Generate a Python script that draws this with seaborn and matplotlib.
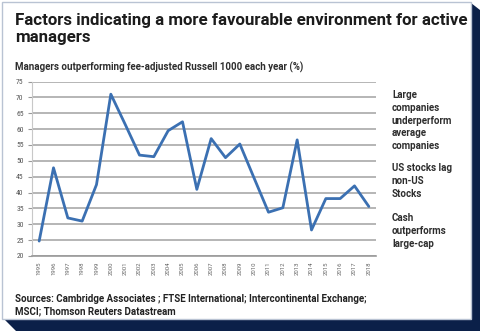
import matplotlib
matplotlib.use("Agg")
import matplotlib.pyplot as plt
from matplotlib.patches import Polygon, Rectangle
import seaborn as sns
import pandas as pd

years = list(range(1995, 2019))
pct_outperforming = [24.7, 47.8, 32.0, 31.0, 42.5, 71.0, 61.5, 51.8, 51.3, 59.5,
                     62.3, 41.0, 57.0, 51.0, 55.3, 44.5, 33.8, 35.2, 56.6, 28.2,
                     38.1, 38.1, 42.1, 35.6]
y_ticks = [20, 25, 30, 35, 40, 45, 50, 55, 60, 65, 70, 75]

title = "Factors indicating a more favourable environment for active\nmanagers"
subtitle = "Managers outperforming fee-adjusted Russell 1000 each year (%)"
side_notes = [
    ("Large\ncompanies\nunderperform\naverage\ncompanies", 96),
    ("US stocks lag\nnon-US\nStocks", 169),
    ("Cash\noutperforms\nlarge-cap", 219),
]
source = "Sources: Cambridge Associates ; FTSE International; Intercontinental Exchange;\nMSCI; Thomson Reuters Datastream"

df = pd.DataFrame({"year": years, "pct": pct_outperforming})

sns.set_theme(style="white")
plt.rcParams["font.family"] = ["Roboto", "DejaVu Sans"]

W, H = 480, 331
fig = plt.figure(figsize=(W / 100, H / 100), dpi=100)
fig.patch.set_facecolor("white")

# Card with dark drop shadow
navy = "#0b2049"
fig.patches.append(Polygon(
    [(471 / W, 1 - 3 / H), (480 / W, 1 - 10 / H), (480 / W, 0), (16 / W, 0),
     (4 / W, 1 - 319 / H), (471 / W, 1 - 319 / H)],
    closed=True, transform=fig.transFigure, facecolor=navy, edgecolor="none", zorder=0))
fig.patches.append(Rectangle(
    (2 / W, 1 - 319 / H), 469 / W, 317 / H, transform=fig.transFigure,
    facecolor="white", edgecolor="#b9c3d3", linewidth=1.0, zorder=1))

ax = fig.add_axes([32 / W, 1 - 256 / H, 344 / W, 174.5 / H])
ax.set_facecolor("none")
ax.set_zorder(2)

sns.lineplot(data=df, x="year", y="pct", ax=ax, color="#3b70b2", linewidth=2.0)

ax.set_xlim(1994.5, 2018.5)
ax.set_ylim(20, 75)
ax.set_yticks(y_ticks)
ax.set_yticklabels([str(v) for v in y_ticks], fontsize=5.5, color="#555555",
                   fontfamily=["Roboto Condensed", "Roboto", "DejaVu Sans"])
ax.set_xticks(years)
ax.set_xticklabels([str(y) for y in years], rotation=90, fontsize=4.3,
                   color="#666666")
ax.tick_params(axis="y", length=3, width=0.8, color="#999999", pad=3, left=True)
ax.tick_params(axis="x", length=0, pad=4)
ax.yaxis.grid(True, color="#a9a9a9", linewidth=1.2)
ax.xaxis.grid(False)
ax.set_axisbelow(True)
ax.set_xlabel("")
ax.set_ylabel("")
for side in ["top", "right"]:
    ax.spines[side].set_visible(False)
ax.spines["left"].set_color("#c8c8c8")
ax.spines["left"].set_linewidth(0.8)
ax.spines["bottom"].set_color("#9a9a9a")
ax.spines["bottom"].set_linewidth(1.2)

fig.text(15 / W, 1 - 13 / H, title, fontsize=12.2, fontweight="bold",
         color="#1c1c1c", va="top", ha="left", linespacing=1.15, zorder=3)
fig.text(15 / W, 1 - 67 / H, subtitle, fontsize=7.0, fontweight="semibold",
         color="#2e2e2e", va="center", ha="left", zorder=3)
for txt, ytop in side_notes:
    fig.text(392 / W, 1 - (ytop - 6) / H, txt, fontsize=7.0, color="#2e2e2e",
             va="top", ha="left", linespacing=1.35, zorder=3, fontweight="semibold")
fig.text(15 / W, 1 - 294 / H, source, fontsize=7.0, fontweight="semibold",
         color="#222222", va="top", ha="left", linespacing=1.3, zorder=3)

fig.savefig("out.png", dpi=100)
